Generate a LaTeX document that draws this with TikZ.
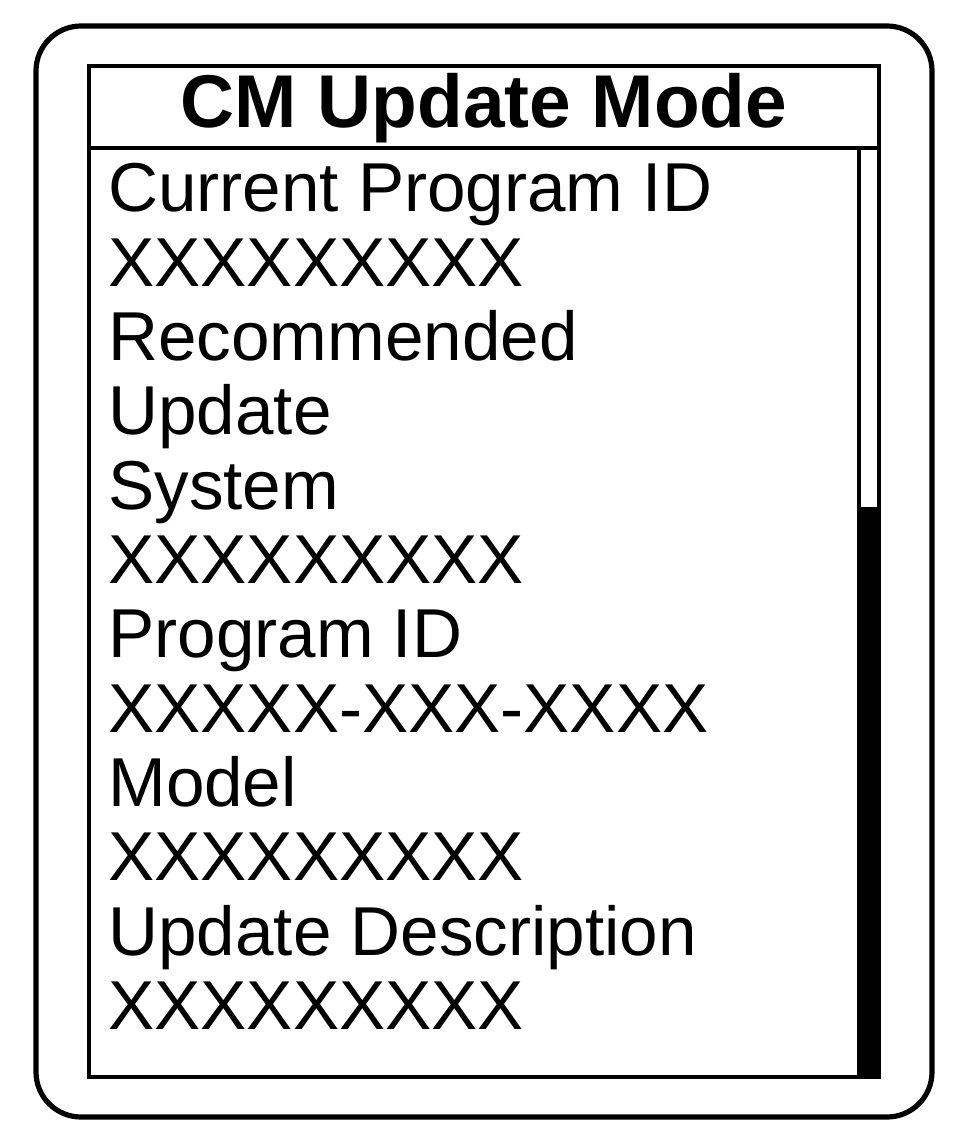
\documentclass[tikz,border=0pt]{standalone}
\usepackage{fontspec}
\setmainfont{Liberation Sans}
\begin{document}
\begin{tikzpicture}[x=0.5pt,y=-0.5pt]
      \tikzstyle{every node}+=[inner sep=0pt]
      \tikzstyle{row}=[anchor=base west,font=\fontsize{34.6}{40}\selectfont]
      \useasboundingbox (0,0) rectangle (954,1128);
      \draw [black,line width=2.6pt,rounded corners=22.5pt] (36,26) rectangle (932,1117);
      \draw [black,line width=2.4pt] (89,66) rectangle (879,1077);
      \draw [black,line width=2.3pt] (89,148) -- (879,148);
      \draw (484,128) node [anchor=base,font=\fontsize{37.4}{40}\selectfont\bfseries] (title) {CM Update Mode};
      % scroll bar
      \draw [black,line width=2.2pt] (859,148) -- (859,1077);
      \fill [black] (858,507) rectangle (879,1077);
      \draw (108,212) node [row] (cur) {Current Program ID};
      \draw (108,286.3) node [row] (curval) {XXXXXXXXX};
      \draw (108,360.6) node [row] (rec) {Recommended};
      \draw (108,434.9) node [row] (upd) {Update};
      \draw (108,509.2) node [row] (sys) {System};
      \draw (108,583.5) node [row] (sysval) {XXXXXXXXX};
      \draw (108,657.8) node [row] (prog) {Program ID};
      \draw (108,732.1) node [row] (progval) {XXXXX-XXX-XXXX};
      \draw (108,806.4) node [row] (model) {Model};
      \draw (108,880.7) node [row] (modelval) {XXXXXXXXX};
      \draw (108,955) node [row] (desc) {Update Description};
      \draw (108,1029.3) node [row] (descval) {XXXXXXXXX};
\end{tikzpicture}
\end{document}
